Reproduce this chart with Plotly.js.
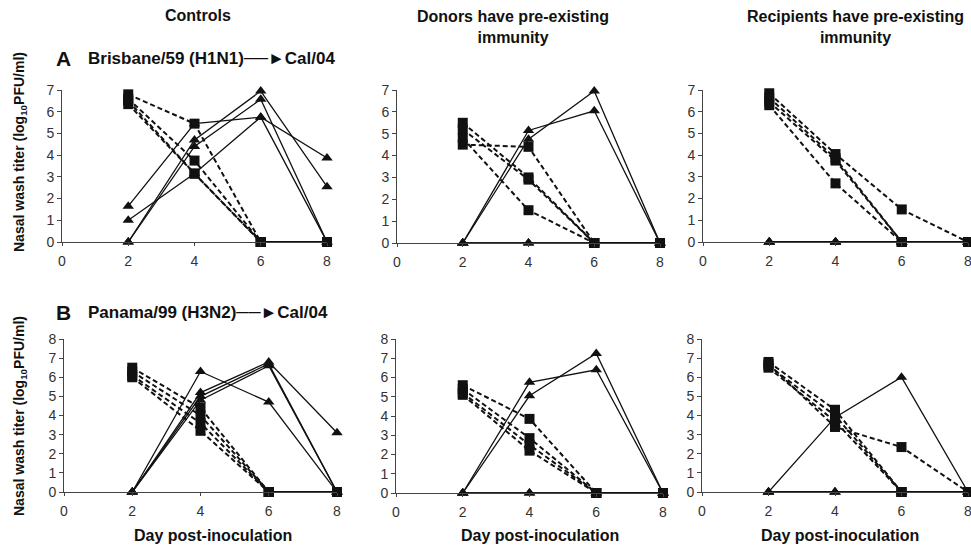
<!DOCTYPE html>
<html>
<head>
<meta charset="utf-8">
<script src="https://cdn.plot.ly/plotly-3.0.1.min.js"></script>
<style>html,body{margin:0;padding:0;background:#fff;}#chart{width:971px;height:548px;}</style>
</head>
<body>
<div id="chart"></div>
<script>
// ---------------- DATA ----------------
const days = [2, 4, 6, 8];
const xTickVals = [0, 2, 4, 6, 8];
const columnTitles = ['Controls', 'Donors have pre-existing<br>immunity', 'Recipients have pre-existing<br>immunity'];
const rowLabels = ['A', 'B'];
const rowViruses = ['Brisbane/59 (H1N1)\u2500\u2500\u25BACal/04', 'Panama/99 (H3N2)\u2500\u2500\u25BACal/04'];
const yTitle = 'Nasal wash titer (log<sub>10</sub>PFU/ml)';
const xTitle = 'Day post-inoculation';

// Row A: Brisbane/59 (H1N1) -> Cal/04  (squares = donors, triangles = recipients)
const A_controls_donors = [[6.8, 5.45, 0, 0], [6.6, 3.75, 0, 0], [6.5, 3.15, 0, 0], [6.35, 3.15, 0, 0]];
const A_controls_recips = [[1.65, 5.45, 5.75, 3.87], [1.0, 3.15, 5.75, 0], [0, 4.7, 6.95, 2.55], [0, 4.4, 6.57, 0]];
const A_donorImm_donors = [[5.5, 3.0, 0, 0], [5.2, 2.9, 0, 0], [4.8, 1.5, 0, 0], [4.5, 4.4, 0, 0]];
const A_donorImm_recips = [[0, 5.15, 6.05, 0], [0, 4.75, 6.95, 0], [0, 0, 0, 0], [0, 0, 0, 0]];
const A_recipImm_donors = [[6.85, 4.05, 1.5, 0], [6.65, 3.85, 0, 0], [6.45, 3.75, 0, 0], [6.3, 2.7, 0, 0]];
const A_recipImm_recips = [[0, 0, 0, 0], [0, 0, 0, 0], [0, 0, 0, 0], [0, 0, 0, 0]];

// Row B: Panama/99 (H3N2) -> Cal/04
const B_controls_donors = [[6.5, 4.4, 0, 0], [6.3, 4.0, 0, 0], [6.1, 3.6, 0, 0], [6.0, 3.2, 0, 0]];
const B_controls_recips = [[0, 6.3, 4.7, 0], [0, 5.2, 6.8, 3.1], [0, 5.0, 6.7, 0], [0, 4.8, 6.6, 0]];
const B_donorImm_donors = [[5.6, 3.85, 0, 0], [5.4, 2.85, 0, 0], [5.2, 2.5, 0, 0], [5.1, 2.2, 0, 0]];
const B_donorImm_recips = [[0, 5.75, 6.4, 0], [0, 5.05, 7.25, 0], [0, 0, 0, 0], [0, 0, 0, 0]];
const B_recipImm_donors = [[6.8, 4.3, 0, 0], [6.7, 3.4, 2.35, 0], [6.6, 4.0, 0, 0], [6.5, 3.7, 0, 0]];
const B_recipImm_recips = [[0, 3.9, 6.0, 0], [0, 0, 0, 0], [0, 0, 0, 0], [0, 0, 0, 0]];

const rowAMax = 7;
const rowBMax = 8;

// ---------------- LAYOUT HELPERS ----------------
const W = 971, H = 548;
const px = v => v / W;
const py = v => 1 - v / H;

const panels = [
  {donors: A_controls_donors, recips: A_controls_recips, xd: [62, 327], yd: [242, 90], ymax: rowAMax},
  {donors: A_donorImm_donors, recips: A_donorImm_recips, xd: [397, 660], yd: [243, 90], ymax: rowAMax},
  {donors: A_recipImm_donors, recips: A_recipImm_recips, xd: [703, 968], yd: [242, 90], ymax: rowAMax},
  {donors: B_controls_donors, recips: B_controls_recips, xd: [64, 337], yd: [492, 339], ymax: rowBMax},
  {donors: B_donorImm_donors, recips: B_donorImm_recips, xd: [396, 663], yd: [493, 339], ymax: rowBMax},
  {donors: B_recipImm_donors, recips: B_recipImm_recips, xd: [702, 968], yd: [492, 339], ymax: rowBMax}
];

const traces = [];
const layout = {
  width: W, height: H,
  margin: {l: 0, r: 0, t: 0, b: 0},
  showlegend: false,
  paper_bgcolor: '#ffffff',
  plot_bgcolor: '#ffffff',
  font: {family: 'Liberation Sans, Arial, sans-serif', color: '#111'},
  annotations: []
};

panels.forEach((p, i) => {
  const n = i + 1;
  const xa = n === 1 ? 'x' : 'x' + n;
  const ya = n === 1 ? 'y' : 'y' + n;
  // recipients (triangles, solid)
  p.recips.forEach(vals => {
    traces.push({
      x: days, y: vals, xaxis: xa, yaxis: ya, type: 'scatter', mode: 'lines+markers',
      cliponaxis: false, hoverinfo: 'skip',
      line: {color: '#111', width: 1.3},
      marker: {symbol: 'triangle-up', size: 10, color: '#111'}
    });
  });
  // donors (squares, dashed)
  p.donors.forEach(vals => {
    traces.push({
      x: days, y: vals, xaxis: xa, yaxis: ya, type: 'scatter', mode: 'lines+markers',
      cliponaxis: false, hoverinfo: 'skip',
      line: {color: '#111', width: 2, dash: '5px,3px'},
      marker: {symbol: 'square', size: 10, color: '#111'}
    });
  });
  layout['xaxis' + (n === 1 ? '' : n)] = {
    domain: [px(p.xd[0]), px(p.xd[1])], range: [0, 8], anchor: ya,
    tickvals: xTickVals, showgrid: false, zeroline: false,
    showline: true, linecolor: '#444', linewidth: 1,
    ticks: 'outside', ticklen: 3, tickcolor: '#444',
    ticklabelstandoff: 3, ticklabeloverflow: 'allow',
    tickfont: {size: 14, color: '#333', family: 'Liberation Sans, Arial, sans-serif'}
  };
  layout['yaxis' + (n === 1 ? '' : n)] = {
    domain: [py(p.yd[0]), py(p.yd[1])], range: [0, p.ymax], anchor: xa,
    dtick: 1, showgrid: false, zeroline: false,
    showline: true, linecolor: '#444', linewidth: 1,
    ticks: 'outside', ticklen: 4, tickcolor: '#444',
    tickfont: {size: 14, color: '#333', family: 'Liberation Sans, Arial, sans-serif'}
  };
});

const narrowBold = {family: 'Liberation Sans Narrow, Arial Narrow, Liberation Sans, Arial, sans-serif', size: 16, weight: 'bold', color: '#111'};

// column titles
const colTitlePos = [[198, 16], [513, 27], [855, 27]];
columnTitles.forEach((t, i) => {
  layout.annotations.push({
    text: t, xref: 'paper', yref: 'paper', x: px(colTitlePos[i][0]), y: py(colTitlePos[i][1]),
    xanchor: 'center', yanchor: 'middle', showarrow: false, align: 'center', font: narrowBold
  });
});

// row labels
const rowY = [58, 312];
rowLabels.forEach((t, i) => {
  layout.annotations.push({
    text: t, xref: 'paper', yref: 'paper', x: px(54), y: py(rowY[i]),
    xanchor: 'left', yanchor: 'middle', showarrow: false,
    font: {family: 'Liberation Sans, Arial, sans-serif', size: 21, weight: 'bold', color: '#111'}
  });
  layout.annotations.push({
    text: rowViruses[i], xref: 'paper', yref: 'paper', x: px(86), y: py(rowY[i]),
    xanchor: 'left', yanchor: 'middle', showarrow: false,
    font: {family: 'Liberation Sans, Arial, sans-serif', size: 17, weight: 'bold', color: '#111'}
  });
});

// y-axis titles
const yTitleY = [152, 416];
yTitleY.forEach(v => {
  layout.annotations.push({
    text: yTitle, xref: 'paper', yref: 'paper', x: px(20), y: py(v),
    xanchor: 'center', yanchor: 'middle', showarrow: false, textangle: -90,
    font: {family: 'Liberation Sans, Arial, sans-serif', size: 14, weight: 'bold', color: '#111'}
  });
});

// x-axis titles
const xTitleX = [213, 540, 840];
xTitleX.forEach(v => {
  layout.annotations.push({
    text: xTitle, xref: 'paper', yref: 'paper', x: px(v), y: py(535),
    xanchor: 'center', yanchor: 'middle', showarrow: false, font: narrowBold
  });
});

Plotly.newPlot('chart', traces, layout, {staticPlot: true, displayModeBar: false});
</script>
</body>
</html>
